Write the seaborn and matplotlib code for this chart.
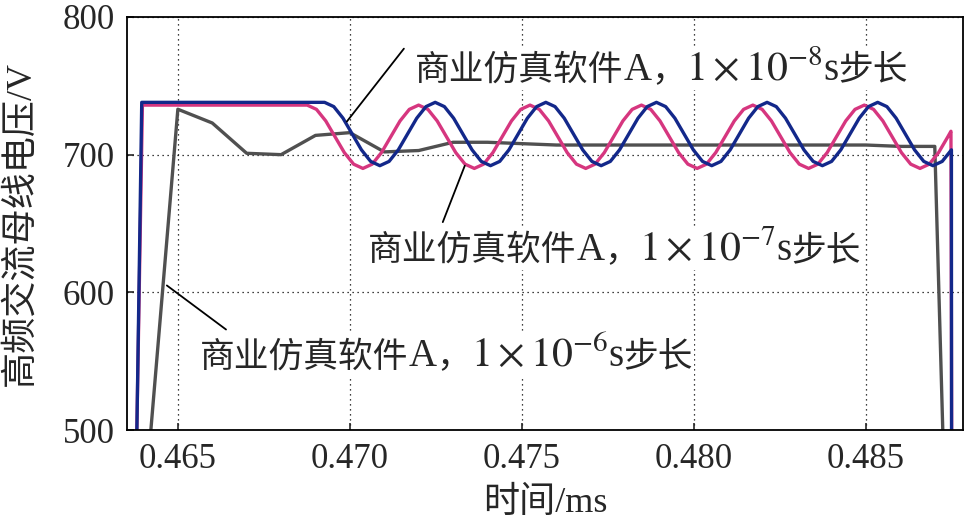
import matplotlib
matplotlib.use("Agg")
import matplotlib.pyplot as plt
from matplotlib.ticker import FormatStrFormatter
from matplotlib.offsetbox import TextArea, HPacker, AnnotationBbox
import numpy as np
import pandas as pd
import seaborn as sns

# step 1e-6 s: one sample every 0.001 ms
t_1e6 = [0.464, 0.465, 0.466, 0.467, 0.468, 0.469, 0.470, 0.471, 0.472, 0.473,
         0.474, 0.475, 0.476, 0.477, 0.478, 0.479, 0.480, 0.481, 0.482, 0.483,
         0.484, 0.485, 0.486, 0.487, 0.488]
v_1e6 = [436, 733, 723, 701, 700, 714, 716, 702, 703, 709,
         709, 708, 707, 707, 707, 707, 707, 707, 707, 707,
         707, 707, 706, 706, -180]

# step 1e-7 s
t_1e7_start = [0.46367, 0.46397]
v_1e7_start = [300, 736]
t_1e7_osc = np.linspace(0.468759, 0.487380, 70)
v_1e7_osc = [736, 732.9, 724.5, 713, 701.5, 693.1, 690, 693.1, 701.5, 713, 724.5, 732.9,
             736, 732.9, 724.5, 713, 701.5, 693.1, 690, 693.1, 701.5, 713, 724.5, 732.9,
             736, 732.9, 724.5, 713, 701.5, 693.1, 690, 693.1, 701.5, 713, 724.5, 732.9,
             736, 732.9, 724.5, 713, 701.5, 693.1, 690, 693.1, 701.5, 713, 724.5, 732.9,
             736, 732.9, 724.5, 713, 701.5, 693.1, 690, 693.1, 701.5, 713, 724.5, 732.9,
             736, 732.9, 724.5, 713, 701.5, 693.1, 690, 693.1, 701.5, 713]
t_1e7_end = [0.48747, 0.48751]
v_1e7_end = [717, 300]

# step 1e-8 s
t_1e8_start = [0.46369, 0.46395]
v_1e8_start = [300, 738]
t_1e8_osc = np.linspace(0.469264, 0.487484, 69)
v_1e8_osc = [738, 734.9, 726.5, 715, 703.5, 695.1, 692, 695.1, 703.5, 715, 726.5, 734.9,
             738, 734.9, 726.5, 715, 703.5, 695.1, 692, 695.1, 703.5, 715, 726.5, 734.9,
             738, 734.9, 726.5, 715, 703.5, 695.1, 692, 695.1, 703.5, 715, 726.5, 734.9,
             738, 734.9, 726.5, 715, 703.5, 695.1, 692, 695.1, 703.5, 715, 726.5, 734.9,
             738, 734.9, 726.5, 715, 703.5, 695.1, 692, 695.1, 703.5, 715, 726.5, 734.9,
             738, 734.9, 726.5, 715, 703.5, 695.1, 692, 695.1, 703.5]
t_1e8_end = [0.48749]
v_1e8_end = [300]

x_ticks = [0.465, 0.470, 0.475, 0.480, 0.485]
y_ticks = [500, 600, 700, 800]

df6 = pd.DataFrame({"t": t_1e6, "v": v_1e6})
df7 = pd.DataFrame({"t": np.concatenate([t_1e7_start, t_1e7_osc, t_1e7_end]),
                    "v": np.concatenate([v_1e7_start, v_1e7_osc, v_1e7_end])})
df8 = pd.DataFrame({"t": np.concatenate([t_1e8_start, t_1e8_osc, t_1e8_end]),
                    "v": np.concatenate([v_1e8_start, v_1e8_osc, v_1e8_end])})

sns.set_style("ticks")
fonts = ["Liberation Serif", "Noto Sans CJK SC"]
plt.rcParams["font.family"] = fonts
plt.rcParams["mathtext.fontset"] = "stix"

fig = plt.figure(figsize=(9.69, 5.26), dpi=100)
ax = fig.add_axes([0.131, 0.1825, 0.8628, 0.7852])

lw = 2.4
sns.lineplot(data=df6, x="t", y="v", color="#505050", lw=lw, sort=False, estimator=None, ax=ax)
sns.lineplot(data=df7, x="t", y="v", color="#d6367f", lw=lw, sort=False, estimator=None, ax=ax)
sns.lineplot(data=df8, x="t", y="v", color="#13288a", lw=lw, sort=False, estimator=None, ax=ax)

ax.set_xlim(0.46352, 0.48782)
ax.set_ylim(500, 800)
ax.set_xticks(x_ticks)
ax.set_yticks(y_ticks)
ax.xaxis.set_major_formatter(FormatStrFormatter("%.3f"))
ax.grid(True, color="black", linestyle=(0, (1, 3)), lw=0.9)
ax.set_axisbelow(True)
ax.tick_params(direction="in", length=5, width=1.2, labelsize=25, pad=9)
for s in ax.spines.values():
    s.set_linewidth(1.3)
    s.set_color("black")

ax.set_xlabel("时间/ms", fontsize=26, labelpad=8)
ax.set_ylabel("高频交流母线电压/V", fontsize=26, labelpad=18)


def step_label(exp, pos, line_from, line_to):
    # leader line first, text box on top of it
    ax.annotate("", xy=line_to, xytext=line_from,
                arrowprops=dict(arrowstyle="-", color="black", lw=1.3, shrinkA=0, shrinkB=0))
    cjk = dict(fontsize=25, family=fonts)
    latin = dict(fontsize=28, family=fonts)
    parts = [TextArea("商业仿真软件", textprops=cjk),
             TextArea("A", textprops=latin),
             TextArea("，", textprops=cjk),
             TextArea("$1\\times10^{-%d}$" % exp, textprops=dict(fontsize=30, family=fonts)),
             TextArea("s", textprops=latin),
             TextArea("步长", textprops=cjk)]
    box = HPacker(children=parts, align="baseline", pad=0, sep=0)
    ab = AnnotationBbox(box, pos, xycoords="data", box_alignment=(0, 0.5), frameon=True,
                        bboxprops=dict(facecolor="white", edgecolor="none"), pad=0.1, zorder=5)
    ax.add_artist(ab)


step_label(8, (0.47189, 762), (0.47157, 777), (0.46991, 724))
step_label(7, (0.47052, 631), (0.47270, 651), (0.47334, 692))
step_label(6, (0.46564, 554), (0.46640, 573), (0.46468, 605))

fig.savefig("out.png", dpi=100)
